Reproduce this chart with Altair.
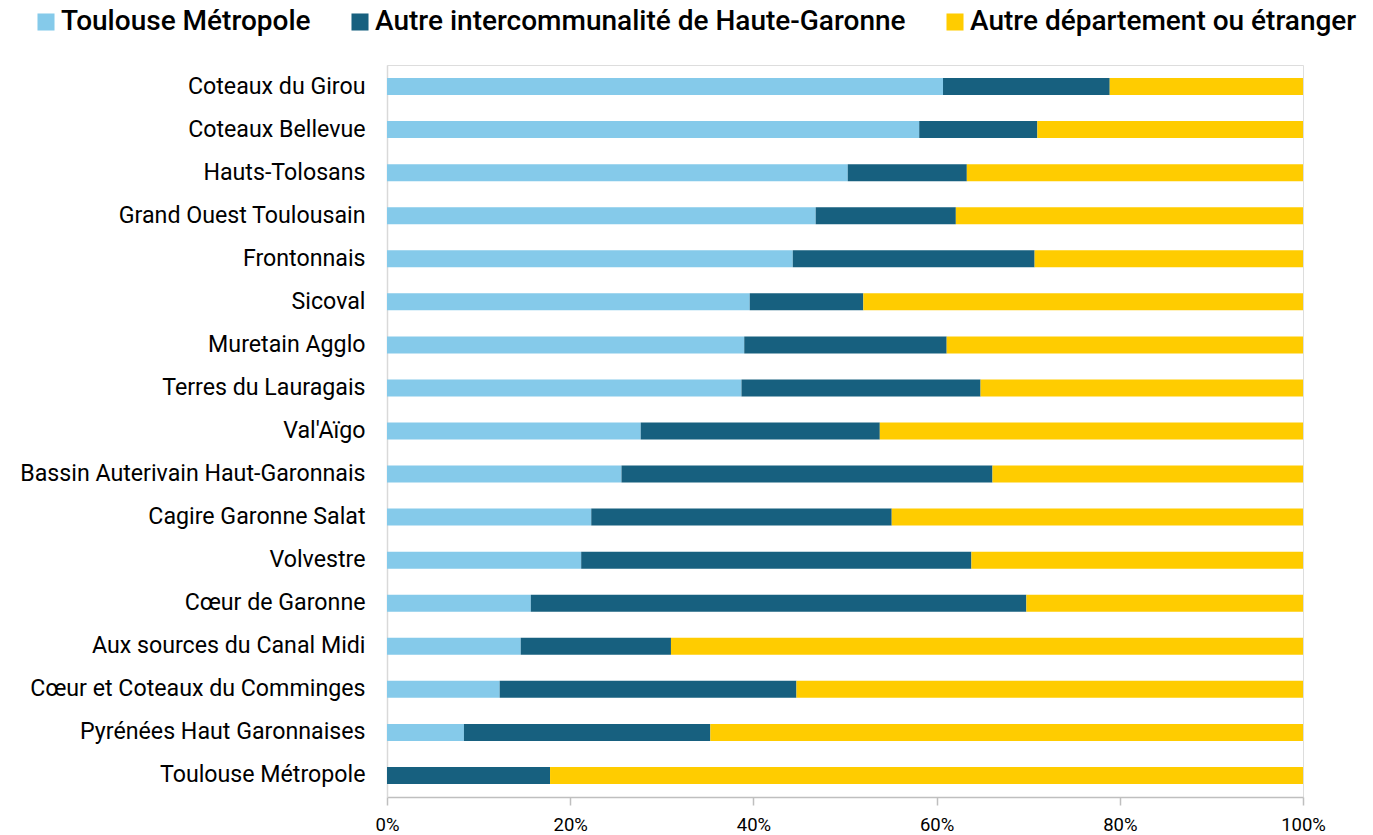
import altair as alt
import pandas as pd

categories = [
    "Coteaux du Girou", "Coteaux Bellevue", "Hauts-Tolosans", "Grand Ouest Toulousain",
    "Frontonnais", "Sicoval", "Muretain Agglo", "Terres du Lauragais", "Val'Aïgo",
    "Bassin Auterivain Haut-Garonnais", "Cagire Garonne Salat", "Volvestre",
    "Cœur de Garonne", "Aux sources du Canal Midi", "Cœur et Coteaux du Comminges",
    "Pyrénées Haut Garonnaises", "Toulouse Métropole",
]
series = ["Toulouse Métropole", "Autre intercommunalité de Haute-Garonne", "Autre département ou étranger"]
toulouse_metropole = [60.7, 58.1, 50.3, 46.8, 44.3, 39.6, 39.0, 38.7, 27.7, 25.6, 22.3, 21.2, 15.7, 14.6, 12.3, 8.4, 0.0]
autre_interco = [18.2, 12.9, 13.0, 15.3, 26.4, 12.4, 22.1, 26.1, 26.1, 40.5, 32.8, 42.6, 54.1, 16.4, 32.4, 26.9, 17.8]
autre_dept = [21.1, 29.0, 36.7, 37.9, 29.3, 48.0, 38.9, 35.2, 46.2, 33.9, 44.9, 36.2, 30.2, 69.0, 55.3, 64.7, 82.2]
colors = ["#85CAEA", "#17607F", "#FFCC00"]

rows = []
for i, c in enumerate(categories):
    for j, (s, vals) in enumerate(zip(series, [toulouse_metropole, autre_interco, autre_dept])):
        rows.append({"EPCI": c, "Origine": s, "Part": vals[i], "ordre": j})
df = pd.DataFrame(rows)

FONT = "Roboto"

chart = alt.Chart(df).mark_bar(size=17).encode(
    y=alt.Y("EPCI:N", sort=categories, title=None,
            axis=alt.Axis(labelFontSize=23.2, labelColor="#000000", labelFont=FONT,
                          labelPadding=22, ticks=False, domain=True,
                          domainColor="#D9D9D9", domainWidth=1.5, labelLimit=600)),
    x=alt.X("Part:Q", stack="zero", title=None,
            scale=alt.Scale(domain=[0, 100], nice=False),
            axis=alt.Axis(values=[0, 20, 40, 60, 80, 100], labelExpr="datum.value + '%'",
                          labelFontSize=18.5, labelColor="#000000", labelFont=FONT,
                          labelFlush=False,
                          grid=False, domainColor="#BFBFBF", tickColor="#BFBFBF",
                          tickSize=8, labelPadding=10, domainWidth=1.5, tickWidth=1.5)),
    color=alt.Color("Origine:N", sort=series,
                    scale=alt.Scale(domain=series, range=colors),
                    legend=alt.Legend(title=None, orient="none", direction="horizontal",
                                      legendX=-355, legendY=-57,
                                      symbolType="square", symbolSize=290,
                                      symbolStrokeWidth=0, labelFontSize=28,
                                      labelFont=FONT, labelFontWeight=500,
                                      labelColor="#000000", columnPadding=35,
                                      labelOffset=1, labelLimit=700)),
    order=alt.Order("ordre:Q"),
).properties(
    width=916, height=732,
    padding={"left": 19, "top": 8, "right": 2, "bottom": 0},
).configure_view(stroke=None).configure(background="#FFFFFF")

chart.save("out.html", embed_options={"renderer": "svg", "actions": False})
